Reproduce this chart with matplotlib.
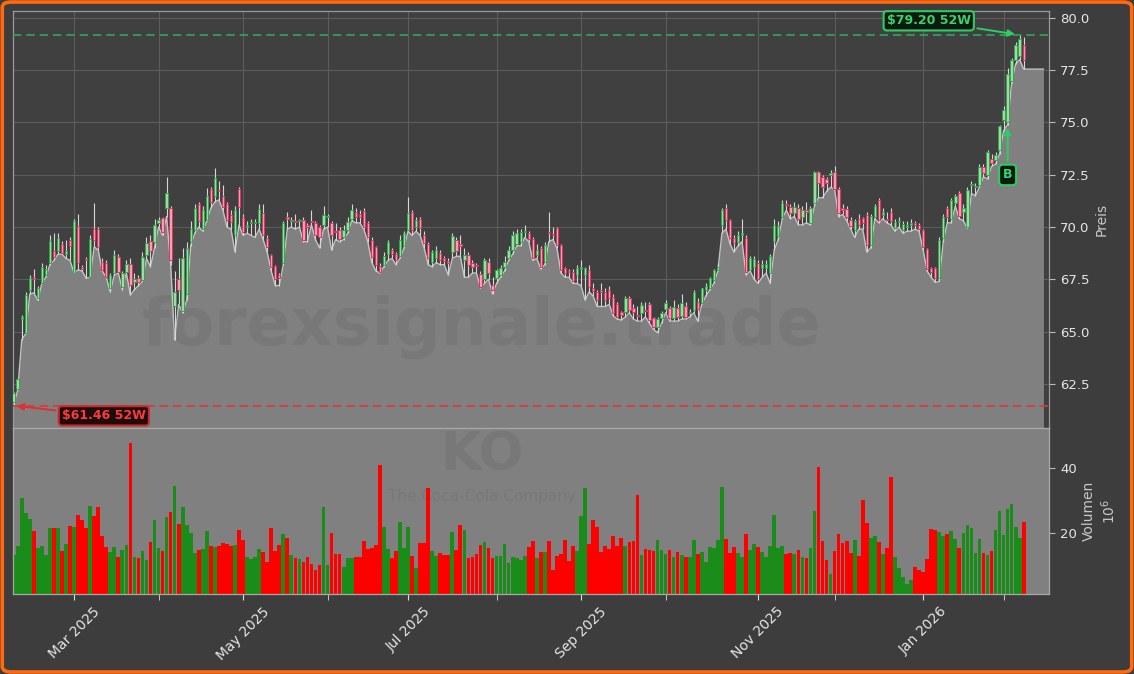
import matplotlib
matplotlib.use("Agg")
import matplotlib.pyplot as plt
from matplotlib.patches import Rectangle, FancyBboxPatch
import numpy as np
import pandas as pd

# --- Data: KO daily candles, 7 Feb 2025 - 9 Feb 2026 ---
holidays = pd.to_datetime(["2025-02-17", "2025-04-18", "2025-05-26", "2025-06-19",
                           "2025-07-04", "2025-09-01", "2025-11-27", "2025-12-25",
                           "2026-01-01", "2026-01-19"])
dates = pd.bdate_range("2025-02-07", "2026-02-09")
dates = dates[~dates.isin(holidays)]

opens = [
    61.65, 62.27, 65.60, 64.95, 66.99, 67.60, 66.60, 67.30, 67.70, 68.30,
    68.87, 68.83, 69.20, 68.72, 69.40, 67.80, 70.05, 68.10, 68.48, 67.63,
    69.90, 69.90, 68.35, 68.27, 67.07, 67.79, 68.59, 67.15, 67.87, 68.22,
    67.35, 67.55, 67.47, 68.67, 69.33, 69.30, 70.20, 70.42, 70.90, 70.90,
    66.20, 67.50, 66.00, 66.80, 69.30, 69.85, 71.10, 69.90, 70.34, 71.80,
    71.46, 71.75, 71.49, 71.09, 70.58, 69.62, 71.81, 70.47, 70.00, 70.20,
    70.20, 70.18, 70.66, 69.46, 68.67, 68.14, 67.70, 68.27, 70.50, 70.30,
    70.30, 70.30, 70.34, 70.10, 70.30, 70.18, 70.02, 70.10, 70.50, 70.18,
    69.80, 69.86, 69.54, 69.86, 70.37, 70.74, 70.60, 70.78, 70.18, 69.38,
    69.06, 68.14, 68.20, 68.70, 68.90, 68.70, 68.60, 69.10, 69.86, 70.74,
    70.02, 70.37, 69.62, 69.19, 68.34, 68.50, 68.77, 68.50, 68.38, 68.82,
    69.40, 69.20, 68.43, 68.67, 68.27, 68.20, 67.76, 67.50, 68.35, 67.24,
    67.55, 67.70, 68.10, 68.51, 68.90, 69.20, 69.26, 69.75, 69.70, 69.42,
    68.67, 68.99, 68.35, 69.74, 69.67, 69.94, 69.15, 68.03, 67.90, 67.87,
    67.71, 68.00, 67.71, 67.95, 67.10, 66.91, 67.00, 66.90, 67.00, 66.67,
    66.30, 65.95, 65.95, 66.59, 66.11, 65.80, 65.90, 66.05, 66.32, 65.63,
    65.24, 65.63, 66.06, 66.11, 65.63, 66.11, 65.74, 66.22, 65.90, 66.03,
    66.40, 66.35, 67.00, 67.10, 67.47, 67.95, 70.10, 70.89, 70.33, 69.46,
    69.30, 69.60, 69.46, 67.95, 68.08, 68.30, 68.03, 68.03, 67.82, 69.31,
    69.55, 70.50, 71.10, 70.98, 70.66, 70.90, 70.50, 70.80, 70.20, 71.14,
    72.65, 72.40, 72.30, 72.50, 72.62, 71.81, 70.90, 70.85, 70.34, 69.86,
    70.39, 70.42, 70.58, 69.15, 70.50, 71.30, 70.58, 70.40, 70.70, 69.94,
    70.25, 69.86, 70.00, 70.10, 70.20, 70.10, 69.86, 68.93, 68.02, 68.02,
    67.55, 69.46, 70.90, 70.37, 71.17, 71.61, 70.73, 70.02, 72.00, 71.90,
    72.01, 72.89, 72.49, 73.24, 73.20, 73.68, 75.10, 75.00, 77.00, 78.00,
    78.20, 78.70,
]
highs = [
    62.10, 62.80, 65.80, 66.90, 67.70, 68.00, 67.20, 68.30, 68.20, 69.60,
    69.70, 69.70, 69.35, 69.40, 69.50, 70.40, 70.60, 68.20, 68.55, 69.60,
    71.14, 70.00, 68.50, 68.40, 67.80, 68.90, 68.70, 67.90, 68.40, 68.50,
    67.80, 67.70, 68.80, 69.50, 69.60, 70.40, 70.50, 70.50, 72.40, 71.00,
    67.90, 68.50, 69.00, 69.30, 70.30, 71.10, 71.20, 71.00, 71.85, 71.90,
    72.80, 72.20, 72.00, 71.20, 70.80, 71.00, 71.90, 70.60, 70.30, 70.40,
    70.40, 71.10, 71.10, 69.60, 68.70, 68.20, 67.80, 70.30, 70.70, 70.50,
    70.60, 70.40, 70.50, 70.20, 70.80, 70.30, 70.10, 71.00, 70.60, 70.30,
    70.20, 70.00, 70.10, 70.50, 71.10, 70.90, 70.80, 70.90, 70.30, 69.50,
    69.10, 68.30, 68.80, 69.40, 69.00, 68.80, 69.60, 69.80, 71.45, 70.80,
    70.50, 70.50, 69.80, 69.30, 68.90, 69.10, 68.90, 68.60, 68.50, 69.70,
    69.50, 69.60, 69.00, 68.80, 68.40, 68.30, 67.90, 68.50, 68.50, 67.60,
    68.00, 68.20, 68.60, 69.10, 69.80, 69.90, 69.90, 70.10, 69.80, 69.50,
    69.20, 69.10, 69.30, 70.71, 70.00, 70.00, 69.20, 68.10, 68.00, 68.00,
    68.20, 68.40, 68.10, 68.20, 67.30, 67.00, 67.30, 67.10, 67.20, 66.80,
    66.40, 66.00, 66.70, 66.70, 66.30, 66.20, 66.40, 66.40, 66.40, 65.70,
    65.70, 66.00, 66.50, 66.20, 66.50, 66.30, 66.80, 66.40, 66.10, 67.00,
    66.60, 67.10, 67.30, 67.60, 68.00, 68.30, 70.90, 71.10, 70.40, 69.60,
    69.80, 70.40, 69.60, 68.60, 68.60, 68.40, 68.40, 68.40, 68.70, 70.40,
    70.30, 71.30, 71.30, 71.10, 71.20, 71.10, 71.00, 71.20, 71.00, 72.70,
    72.70, 72.50, 72.40, 72.75, 72.90, 71.90, 71.10, 71.00, 70.50, 70.40,
    70.60, 70.50, 70.70, 70.60, 71.10, 71.40, 70.90, 70.70, 70.90, 70.40,
    70.50, 70.30, 70.30, 70.40, 70.30, 70.20, 69.90, 69.00, 68.10, 68.10,
    69.50, 70.60, 71.00, 71.40, 71.60, 71.70, 71.10, 71.90, 72.20, 72.10,
    73.00, 73.00, 73.70, 73.50, 73.60, 74.90, 75.80, 77.60, 78.10, 78.85,
    79.20, 79.10,
]
lows = [
    61.46, 62.20, 64.60, 64.90, 66.80, 66.85, 66.50, 67.30, 67.60, 68.20,
    68.40, 68.70, 68.70, 68.50, 68.40, 67.80, 67.95, 67.90, 67.55, 67.60,
    69.05, 68.90, 67.90, 67.60, 66.90, 67.70, 67.80, 67.00, 67.80, 66.75,
    67.00, 67.20, 67.40, 68.50, 68.10, 69.00, 70.00, 69.60, 70.50, 68.20,
    64.60, 66.30, 65.90, 66.50, 69.10, 69.70, 70.00, 69.80, 70.30, 70.90,
    71.20, 71.30, 70.80, 70.00, 69.90, 68.80, 70.10, 69.60, 69.70, 69.60,
    69.50, 69.90, 69.40, 68.80, 67.90, 67.20, 67.20, 68.20, 69.90, 70.00,
    69.90, 70.00, 69.30, 69.30, 70.10, 69.40, 69.00, 69.90, 70.00, 68.90,
    69.40, 69.30, 69.40, 69.70, 70.30, 70.20, 70.20, 69.90, 69.30, 68.30,
    67.90, 67.80, 68.10, 68.40, 68.50, 68.20, 68.50, 69.00, 69.80, 69.60,
    69.80, 69.60, 69.00, 68.20, 68.10, 68.30, 68.20, 68.20, 67.70, 68.50,
    68.60, 68.60, 67.60, 67.60, 67.80, 67.80, 67.10, 67.30, 67.50, 66.80,
    67.30, 67.60, 67.90, 68.40, 68.70, 69.10, 69.10, 69.50, 69.30, 68.40,
    68.50, 68.00, 68.20, 69.30, 69.40, 69.00, 67.80, 67.60, 67.60, 67.30,
    67.30, 67.20, 66.50, 66.90, 66.70, 66.20, 66.20, 66.20, 66.30, 65.75,
    65.60, 65.55, 65.70, 65.90, 65.60, 65.50, 65.50, 65.70, 65.40, 65.10,
    64.95, 65.40, 65.90, 65.50, 65.50, 65.50, 65.60, 65.60, 65.70, 65.90,
    65.50, 66.30, 66.70, 67.00, 67.30, 67.90, 69.70, 69.90, 69.20, 68.80,
    69.10, 69.30, 67.70, 67.90, 67.50, 67.30, 67.60, 67.80, 67.30, 68.90,
    69.40, 70.40, 70.80, 70.40, 70.50, 70.10, 70.10, 70.20, 70.10, 71.00,
    71.40, 71.40, 71.70, 71.90, 71.80, 70.50, 70.60, 70.30, 69.90, 69.50,
    69.90, 69.90, 68.80, 69.00, 70.40, 70.20, 70.40, 70.20, 70.10, 69.80,
    70.00, 69.70, 69.80, 69.80, 69.90, 69.80, 68.90, 67.90, 67.60, 67.35,
    67.40, 69.30, 70.20, 70.20, 71.00, 70.40, 70.30, 69.95, 71.60, 71.50,
    71.90, 72.40, 72.30, 72.90, 73.00, 73.50, 74.60, 74.90, 76.90, 77.80,
    78.00, 77.55,
]
closes = [
    62.05, 62.72, 65.70, 66.75, 67.55, 67.50, 67.10, 68.10, 68.00, 69.35,
    68.59, 69.46, 68.78, 68.87, 69.10, 70.30, 68.27, 68.00, 68.43, 69.43,
    69.38, 69.03, 67.95, 67.63, 67.71, 68.67, 67.87, 67.79, 68.24, 67.23,
    67.52, 67.35, 68.56, 69.22, 68.87, 70.10, 70.35, 69.78, 71.62, 68.43,
    66.90, 67.00, 68.50, 69.00, 69.90, 70.90, 70.30, 70.80, 71.49, 71.20,
    72.33, 71.70, 70.98, 70.34, 70.26, 70.82, 70.98, 69.78, 70.10, 70.20,
    70.25, 70.85, 69.62, 69.03, 68.08, 67.50, 67.55, 70.18, 70.40, 70.30,
    70.25, 70.30, 69.40, 70.00, 70.25, 69.62, 69.54, 70.58, 70.50, 69.62,
    69.75, 69.41, 69.86, 70.26, 70.82, 70.50, 70.50, 70.02, 69.51, 68.58,
    68.19, 67.87, 68.60, 69.30, 68.70, 68.40, 69.40, 69.70, 70.66, 69.86,
    70.34, 69.94, 69.22, 68.50, 68.82, 68.90, 68.42, 68.38, 68.26, 69.57,
    68.85, 69.07, 68.67, 68.16, 68.11, 68.15, 67.12, 68.43, 67.80, 67.00,
    67.95, 68.03, 68.35, 68.90, 69.63, 69.70, 69.74, 69.80, 69.42, 68.51,
    68.91, 68.11, 69.15, 69.72, 69.63, 69.15, 67.95, 67.79, 67.85, 67.44,
    68.03, 68.07, 68.03, 67.15, 66.95, 66.52, 66.90, 66.50, 66.60, 65.87,
    65.70, 65.80, 66.59, 66.03, 65.95, 65.75, 66.27, 66.00, 65.55, 65.24,
    65.60, 65.87, 66.35, 65.63, 66.19, 65.68, 66.35, 65.68, 65.92, 66.90,
    66.10, 67.07, 67.20, 67.55, 67.95, 68.10, 70.81, 70.33, 69.46, 69.22,
    69.62, 69.70, 67.87, 68.50, 68.46, 67.50, 68.24, 68.24, 68.62, 70.10,
    70.06, 71.17, 71.05, 70.66, 70.98, 70.40, 70.80, 70.70, 70.90, 72.65,
    72.10, 71.90, 72.10, 72.60, 71.81, 70.69, 70.80, 70.47, 70.06, 70.30,
    70.10, 70.18, 69.15, 70.53, 71.01, 70.34, 70.74, 70.35, 70.30, 70.26,
    70.27, 70.15, 70.10, 70.20, 70.10, 69.90, 69.06, 67.98, 67.86, 67.55,
    69.38, 70.50, 70.50, 71.29, 71.48, 70.53, 70.89, 71.77, 72.05, 71.95,
    72.89, 72.57, 73.60, 73.08, 73.44, 74.83, 75.60, 77.30, 78.00, 78.70,
    79.00, 78.00,
]
# volume in millions of shares
volumes = [
    13.2, 16.0, 30.7, 26.0, 24.3, 20.6, 15.4, 16.0, 13.2, 21.4,
    21.4, 21.4, 14.5, 16.5, 22.2, 21.7, 25.5, 24.0, 21.6, 28.3,
    25.2, 27.9, 18.9, 15.7, 14.2, 15.7, 12.6, 14.8, 16.3, 47.8,
    12.6, 12.2, 14.5, 11.7, 17.2, 24.0, 15.3, 14.5, 24.9, 26.5,
    34.5, 22.8, 27.9, 22.4, 19.9, 13.7, 14.8, 15.1, 20.6, 16.0,
    15.8, 16.0, 16.9, 16.5, 16.0, 16.3, 20.9, 17.8, 12.6, 11.9,
    12.6, 15.1, 14.2, 11.1, 21.5, 14.5, 16.3, 19.7, 18.5, 13.2,
    12.2, 11.9, 11.1, 12.6, 10.5, 8.6, 10.2, 27.9, 10.2, 20.0,
    13.5, 13.5, 9.5, 12.3, 12.3, 12.6, 12.6, 17.5, 15.1, 15.4,
    16.3, 40.9, 21.8, 15.1, 12.3, 14.5, 23.4, 15.4, 21.8, 12.9,
    9.2, 16.9, 16.9, 33.8, 14.5, 12.9, 13.8, 13.2, 13.2, 20.3,
    14.8, 22.5, 20.9, 12.3, 12.6, 13.5, 16.3, 17.2, 15.5, 12.2,
    13.0, 12.8, 16.5, 10.8, 12.5, 12.3, 11.8, 12.8, 15.6, 17.5,
    12.4, 14.2, 14.0, 17.6, 8.6, 13.0, 13.6, 17.9, 11.4, 16.1,
    14.5, 25.1, 33.8, 16.7, 24.1, 21.7, 14.2, 16.1, 15.1, 18.9,
    16.1, 18.5, 16.0, 17.3, 17.6, 31.6, 13.3, 15.1, 14.8, 14.5,
    17.9, 14.8, 13.6, 14.8, 12.6, 14.2, 13.3, 12.6, 12.6, 17.9,
    13.6, 14.2, 11.1, 15.8, 15.4, 17.9, 34.1, 18.2, 13.9, 15.8,
    13.9, 12.6, 19.8, 14.8, 16.7, 15.8, 14.0, 12.6, 16.1, 25.4,
    15.4, 16.1, 13.6, 13.9, 13.6, 14.8, 12.6, 12.3, 15.4, 26.6,
    40.3, 17.6, 11.7, 7.4, 14.5, 19.8, 17.0, 17.6, 13.9, 17.9,
    13.0, 30.1, 23.2, 18.5, 18.9, 17.3, 13.6, 15.4, 37.2, 12.6,
    9.2, 6.5, 4.2, 5.5, 9.5, 8.6, 8.0, 12.0, 21.3, 21.0,
    20.4, 19.2, 19.8, 20.7, 18.2, 15.5, 20.0, 22.3, 21.5, 13.8,
    18.2, 13.8, 13.3, 14.5, 21.0, 26.6, 19.5, 27.3, 28.8, 21.7,
    18.5, 23.5,
]

low_52w = 61.46
high_52w = 79.20
signal_idx = 247  # buy signal day

# --- Figure ---
BG = "#3d3d3d"
FILL = "#808080"
fig = plt.figure(figsize=(11.34, 6.74), dpi=100, facecolor=BG)
ax = fig.add_axes([0.01146, 0.3650, 0.9140, 0.6187])
axv = fig.add_axes([0.01146, 0.1187, 0.9140, 0.2463], sharex=ax)

n = len(closes)
x = np.arange(n)
ymin, ymax = 60.39, 80.33
xmin, xmax = -0.17, 257.4

ax.set_facecolor("#404040")
ax.set_xlim(xmin, xmax)
ax.set_ylim(ymin, ymax)

# area under the lows, carried flat a few days past the last candle
fx = np.concatenate([[xmin], x, [255.9]])
fy = np.concatenate([[lows[0]], lows, [lows[-1]]])
ax.fill_between(fx, fy, ymin, color=FILL, zorder=1, lw=0)
ax.plot(fx, fy, color="#c4c4c4", lw=1.0, zorder=2)

# candles
for i in range(n):
    o, h, l, c = opens[i], highs[i], lows[i], closes[i]
    up = c >= o
    ax.vlines(i, l, h, color="#d6d6d6", lw=0.8, zorder=3)
    body = max(abs(c - o), 0.04)
    ax.add_patch(Rectangle((i - 0.3, min(o, c)), 0.6, body,
                           facecolor="#aad3aa" if up else "#eea2b5",
                           edgecolor="#2fa84a" if up else "#dc3460",
                           lw=0.7, zorder=4))

# 52-week high/low lines
ax.axhline(high_52w, color="#2ea85a", ls=(0, (5, 3)), lw=1.2, zorder=5)
ax.axhline(low_52w, color="#d83a3a", ls=(0, (5, 3)), lw=1.2, zorder=5)

ax.annotate(r"\$79.20 52W", xy=(249.5, high_52w), xytext=(227.4, 79.86),
            ha="center", va="center", fontsize=9, fontweight="bold", color="#35d46e",
            bbox=dict(boxstyle="round,pad=0.25", fc="#0b1a0f", ec="#2ecc64", lw=1.5),
            arrowprops=dict(arrowstyle="-|>", color="#2ecc64", lw=1.4, mutation_scale=10),
            zorder=8)
ax.annotate(r"\$61.46 52W", xy=(0, low_52w), xytext=(22.4, 60.97),
            ha="center", va="center", fontsize=9, fontweight="bold", color="#ff3a3a",
            bbox=dict(boxstyle="round,pad=0.25", fc="#1e0b0b", ec="#cc2a2a", lw=1.5),
            arrowprops=dict(arrowstyle="-|>", color="#e03030", lw=1.4, mutation_scale=10),
            zorder=8)
ax.annotate("B", xy=(signal_idx, 74.88), xytext=(signal_idx, 72.49),
            ha="center", va="center", fontsize=9, fontweight="bold", color="#35d46e",
            bbox=dict(boxstyle="round,pad=0.3", fc="#0b1a0f", ec="#2ecc64", lw=1.5),
            arrowprops=dict(arrowstyle="-|>", color="#2ecc64", lw=1.4, mutation_scale=10),
            zorder=8)

# watermark
ax.text(0.452, 0.242, "forexsignale.trade", transform=ax.transAxes,
        ha="center", va="center", fontsize=47, fontweight="bold",
        color="black", alpha=0.055, zorder=2.5)

# price axis styling
ax.yaxis.tick_right()
ax.yaxis.set_label_position("right")
ax.set_yticks(np.arange(62.5, 80.1, 2.5))
ax.set_yticklabels([f"{v:.1f}" for v in np.arange(62.5, 80.1, 2.5)])
ax.set_ylabel("Preis", color="#c8c8c8", fontsize=10)
ax.tick_params(axis="y", colors="#e6e6e6", labelsize=9.5, length=4, color="#bbbbbb")
ax.tick_params(axis="x", which="both", labelbottom=False, length=0)

# month ticks (first trading day of each month)
month_first = [i for i in range(1, n) if dates[i].month != dates[i - 1].month]
major = [i for i in month_first if dates[i].month % 2 == 1]
minor = [i for i in month_first if dates[i].month % 2 == 0]
ax.set_xticks(major)
ax.set_xticks(minor, minor=True)
ax.grid(True, which="both", color="#5c5c5c", lw=0.8, zorder=0)
ax.set_axisbelow(True)
for s in ax.spines.values():
    s.set_color("#9a9a9a")
    s.set_linewidth(0.9)

# --- Volume panel ---
axv.set_facecolor(FILL)
vol_colors = ["#1a8c1a" if closes[i] >= opens[i] else "#ff0000" for i in range(n)]
axv.bar(x, volumes, width=0.92, color=vol_colors, lw=0, zorder=2)
axv.set_ylim(1.2, 52.3)
axv.set_yticks([20, 40])
axv.yaxis.tick_right()
axv.yaxis.set_label_position("right")
axv.set_ylabel("Volumen\n$10^{6}$", color="#c8c8c8", fontsize=10, labelpad=4)
axv.tick_params(axis="y", colors="#e6e6e6", labelsize=9.5, length=4, color="#bbbbbb")
axv.set_xticks(major)
axv.set_xticklabels([dates[i].strftime("%b %Y") for i in major])
axv.set_xticks(minor, minor=True)
axv.tick_params(axis="x", which="both", colors="#e6e6e6", labelsize=10,
                length=4, color="#dddddd")
plt.setp(axv.get_xticklabels(), rotation=45, ha="center")
for s in axv.spines.values():
    s.set_color("#a8a8a8")
    s.set_linewidth(0.9)

axv.text(0.452, 0.84, "KO", transform=axv.transAxes, ha="center", va="center",
         fontsize=38, fontweight="bold", color="black", alpha=0.06, zorder=1)
axv.text(0.452, 0.585, "The Coca-Cola Company", transform=axv.transAxes,
         ha="center", va="center", fontsize=11, color="black", alpha=0.06, zorder=1)

# orange frame around the whole figure
fig.patches.append(FancyBboxPatch((0.002, 0.003), 0.996, 0.994,
                                  boxstyle="round,pad=0,rounding_size=0.008",
                                  transform=fig.transFigure, fc="none",
                                  ec="#ff6a10", lw=2.6))

fig.savefig("out.png", dpi=100, facecolor=BG)
